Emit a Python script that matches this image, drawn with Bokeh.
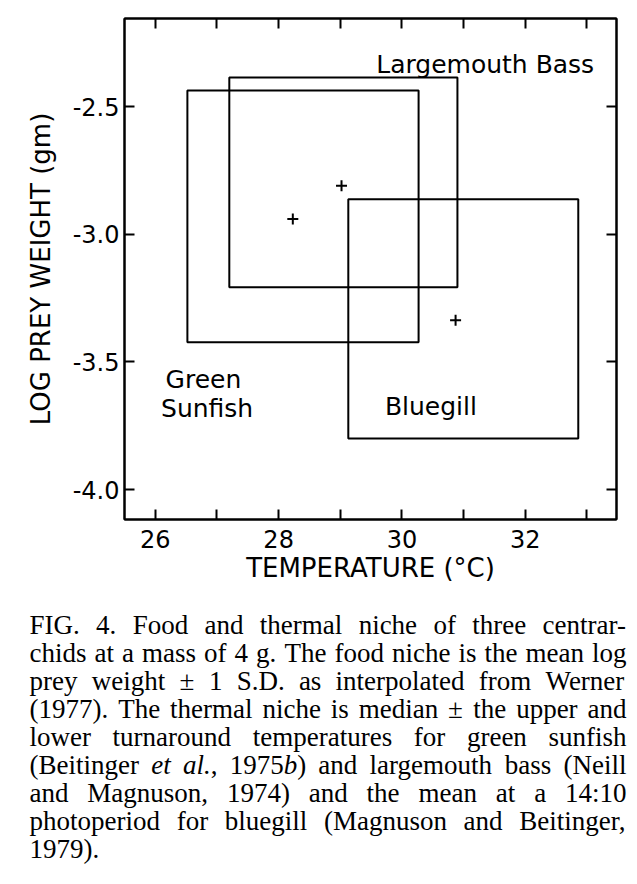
import re
from bokeh.plotting import figure
from bokeh.models import Range1d, FixedTicker, LinearAxis, ColumnDataSource
from bokeh.embed import file_html
from bokeh.resources import INLINE
from bokeh.core.properties import value

# ---------------- data ----------------
species = ["Green Sunfish", "Largemouth Bass", "Bluegill"]
temp_low = [26.52, 27.20, 29.13]
temp_high = [30.27, 30.90, 32.86]
prey_low = [-3.423, -3.208, -3.80]
prey_high = [-2.437, -2.386, -2.863]
temp_center = [28.23, 29.02, 30.87]
prey_center = [-2.94, -2.81, -3.337]

x_ticks = [26, 28, 30, 32]
x_minor_ticks = [27, 29, 31, 33]
x_tick_labels = ["26", "28", "30", "32"]
y_ticks = [-4.0, -3.5, -3.0, -2.5]
y_tick_labels = ["-4.0", "-3.5", "-3.0", "-2.5"]

label_text = ["Largemouth Bass", "Green", "Sunfish", "Bluegill"]

caption_lines = [
    "FIG. 4. Food and thermal niche of three centrar-",
    "chids at a mass of 4 g. The food niche is the mean log",
    "prey weight \u00b1 1 S.D. as interpolated from Werner",
    "(1977). The thermal niche is median \u00b1 the upper and",
    "lower turnaround temperatures for green sunfish",
    "(Beitinger _et_ _al._, 1975_b_) and largemouth bass (Neill",
    "and Magnuson, 1974) and the mean at a 14:10",
    "photoperiod for bluegill (Magnuson and Beitinger,",
    "1979).",
]

# ---------------- layout / style ----------------
SANS = "DejaVu Sans"
SERIF = "Liberation Serif"

# label placement (data coordinates)
label_x = [31.35, 26.78, 26.84, 30.47]
label_y = [-2.335, -3.57, -3.683, -3.676]

FIG_W = 629
p = figure(width=FIG_W, height=598,
           x_range=Range1d(25.5, 33.48), y_range=Range1d(-4.1175, -2.155),
           output_backend="svg", toolbar_location=None,
           min_border_left=124, min_border_right=FIG_W - 616,
           min_border_top=18, min_border_bottom=79,
           x_axis_label="TEMPERATURE (\u00b0C)",
           y_axis_label="LOG PREY WEIGHT (gm)")
p.grid.visible = False
p.outline_line_color = "black"
p.outline_line_width = 2


def style_axis(ax):
    ax.axis_line_width = 2
    ax.axis_line_color = "black"
    ax.major_tick_line_width = 2
    ax.minor_tick_line_width = 2
    ax.major_tick_in = 10
    ax.major_tick_out = 0
    ax.minor_tick_in = 10
    ax.minor_tick_out = 0
    ax.major_label_text_font = SANS
    ax.major_label_text_font_size = "24px"
    ax.major_label_text_color = "black"
    ax.axis_label_text_font = SANS
    ax.axis_label_text_font_style = "normal"
    ax.axis_label_text_font_size = "26px"
    ax.axis_label_text_color = "black"


xa = p.xaxis[0]
xa.ticker = FixedTicker(ticks=x_ticks, minor_ticks=x_minor_ticks)
xa.major_label_overrides = dict(zip(x_ticks, x_tick_labels))
style_axis(xa)
xa.major_label_standoff = 10
xa.axis_label_standoff = 2

ya = p.yaxis[0]
ya.ticker = FixedTicker(ticks=y_ticks)
ya.major_label_overrides = dict(zip(y_ticks, y_tick_labels))
style_axis(ya)
ya.major_label_standoff = 5
ya.axis_label_standoff = 14

top = LinearAxis(ticker=FixedTicker(ticks=x_ticks, minor_ticks=x_minor_ticks),
                 major_label_overrides={t: "" for t in x_ticks})
style_axis(top)
p.add_layout(top, "above")
right = LinearAxis(ticker=FixedTicker(ticks=y_ticks),
                   major_label_overrides={t: "" for t in y_ticks})
style_axis(right)
p.add_layout(right, "right")

p.quad(left=temp_low, right=temp_high, bottom=prey_low, top=prey_high,
       fill_color=None, line_color="black", line_width=2)
p.scatter(temp_center, prey_center, marker="cross", size=11,
          line_width=2, color="black")
p.text(x=label_x, y=label_y, text=label_text, text_font=value(SANS),
       text_font_size="25px", text_align="center",
       text_baseline="alphabetic", text_color="black")

# ---------------- caption ----------------
CAP_W, CAP_H = FIG_W, 270
CAP_FS = 27
CAP_LEFT, CAP_RIGHT = 29, 626
CAP_TOP_BASE, CAP_PITCH = 26.0, 28.1

ROMAN = {' ': 250, 'a': 444, 'b': 500, 'c': 444, 'd': 500, 'e': 444, 'f': 333,
         'g': 500, 'h': 500, 'i': 278, 'j': 278, 'k': 500, 'l': 278, 'm': 778,
         'n': 500, 'o': 500, 'p': 500, 'q': 500, 'r': 333, 's': 389, 't': 278,
         'u': 500, 'v': 500, 'w': 722, 'x': 500, 'y': 500, 'z': 444,
         'A': 722, 'B': 667, 'C': 667, 'D': 722, 'E': 611, 'F': 556, 'G': 722,
         'H': 722, 'I': 333, 'J': 389, 'K': 722, 'L': 611, 'M': 889, 'N': 722,
         'O': 722, 'P': 556, 'Q': 722, 'R': 667, 'S': 556, 'T': 611, 'U': 722,
         'V': 722, 'W': 944, 'X': 722, 'Y': 722, 'Z': 611,
         '.': 250, ',': 250, ':': 278, '(': 333, ')': 333, '-': 333, '\u00b1': 564}
ITALIC = {'a': 500, 'b': 500, 'e': 444, 'l': 278, 't': 278, '.': 250}


def width(s, table):
    return sum(table.get(ch, 500) for ch in s) / 1000.0 * CAP_FS


rom = dict(x=[], y=[], text=[])
ita = dict(x=[], y=[], text=[])
for i, line in enumerate(caption_lines):
    yb = CAP_TOP_BASE + CAP_PITCH * i
    words = line.split(" ")
    segs_all = []
    total = 0.0
    for w in words:
        parts = w.split("_")
        segs = []
        for k, part in enumerate(parts):
            if part == "":
                continue
            it = (k % 2 == 1)
            wd = width(part, ITALIC if it else ROMAN)
            segs.append((part, it, wd))
            total += wd
        segs_all.append(segs)
    n = len(segs_all)
    if i == len(caption_lines) - 1 or n < 2:
        gap = ROMAN[' '] / 1000.0 * CAP_FS
    else:
        gap = (CAP_RIGHT - CAP_LEFT - total) / (n - 1)
    x = CAP_LEFT
    for segs in segs_all:
        for part, it, wd in segs:
            d = ita if it else rom
            d["x"].append(x)
            d["y"].append(yb)
            d["text"].append(part)
            x += wd
        x += gap

c = figure(width=CAP_W, height=CAP_H, x_range=Range1d(0, CAP_W),
           y_range=Range1d(CAP_H, 0), output_backend="svg",
           toolbar_location=None, min_border=0,
           min_border_left=0, min_border_right=0,
           min_border_top=0, min_border_bottom=0,
           x_axis_location=None, y_axis_location=None)
c.grid.visible = False
c.outline_line_color = None
c.text(x="x", y="y", text="text", source=ColumnDataSource(rom),
       text_font=value(SERIF), text_font_size=f"{CAP_FS}px",
       text_baseline="alphabetic", text_align="left", text_color="black")
c.text(x="x", y="y", text="text", source=ColumnDataSource(ita),
       text_font=value(SERIF), text_font_size=f"{CAP_FS}px",
       text_font_style="italic",
       text_baseline="alphabetic", text_align="left", text_color="black")

open("out.html", "w").write(file_html([p, c], INLINE))
